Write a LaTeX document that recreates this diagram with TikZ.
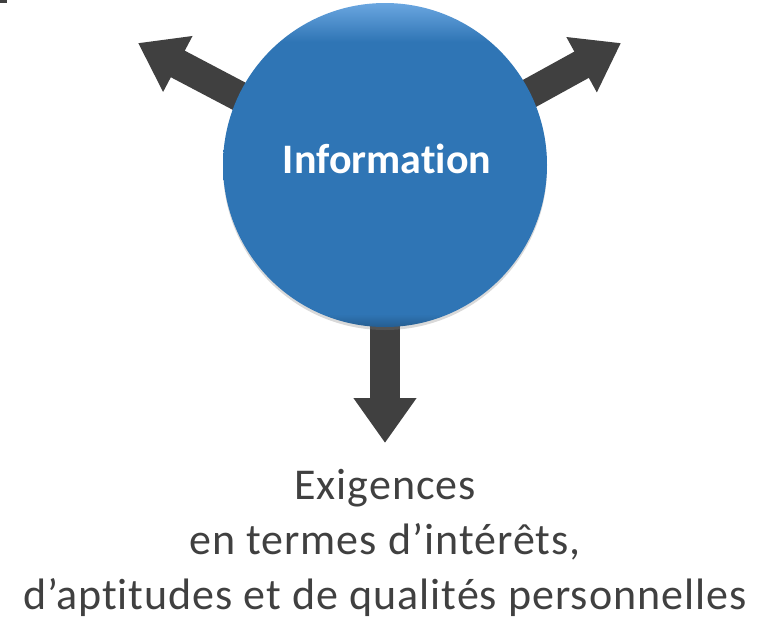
\documentclass[tikz,border=0pt]{standalone}
\usepackage{fontspec}
\setmainfont[Ligatures=NoCommon]{Carlito}
\newfontfamily\capfont[Ligatures=NoCommon, LetterSpace=2.3]{Carlito}
\usetikzlibrary{arrows.meta, positioning, shadows}

\definecolor{infoblue}{HTML}{2F75B5}
\definecolor{infolight}{HTML}{6AA6E0}
\definecolor{arrowgray}{HTML}{404040}
\definecolor{textgray}{HTML}{404040}
\pgfdeclareverticalshading{bubbleshade}{100bp}{color(0bp)=(infoblue!80!black); color(25bp)=(infoblue!80!black); color(27bp)=(infoblue); color(69bp)=(infoblue); color(75bp)=(infolight); color(100bp)=(infolight)}

\begin{document}
\begin{tikzpicture}[
    x=1pt, y=-1pt,
    bigarrow/.style={line width=30pt, draw=arrowgray, -{Triangle[length=45pt, width=60pt]}},
    bubble/.style={circle, minimum size=324pt, inner sep=0pt, shading=bubbleshade,
        drop shadow={opacity=0.3, shadow xshift=0pt, shadow yshift=-3pt}},
    caption/.style={font=\capfont\fontsize{44}{52}\selectfont, text=textgray, anchor=base, inner sep=0pt},
]
\useasboundingbox (0,0) rectangle (758,625);

% stray mark in the corner
\fill[arrowgray] (0,0) rectangle (7,3);

% arrow ends
\coordinate (hub) at (385,173);
\coordinate (tipL) at (138,43);
\coordinate (tipR) at (621,43);
\coordinate (tipD) at (385,443);

% arrows (under the circle)
\draw[bigarrow] (hub) -- (tipL);
\draw[bigarrow] (hub) -- (tipR);
\draw[bigarrow] (hub) -- (tipD);

% circle
\node[bubble] (info) at (385,165) {};
\node[font=\fontsize{42}{50}\selectfont\bfseries, text=white] (lbl) at (387,159) {Information};

% caption
\node[caption] (cap1) at (385,499) {Exigences};
\node[caption] (cap2) at (385,554) {en termes d’intérêts,};
\node[caption] (cap3) at (385,609) {d’aptitudes et de qualités personnelles};

\end{tikzpicture}
\end{document}
